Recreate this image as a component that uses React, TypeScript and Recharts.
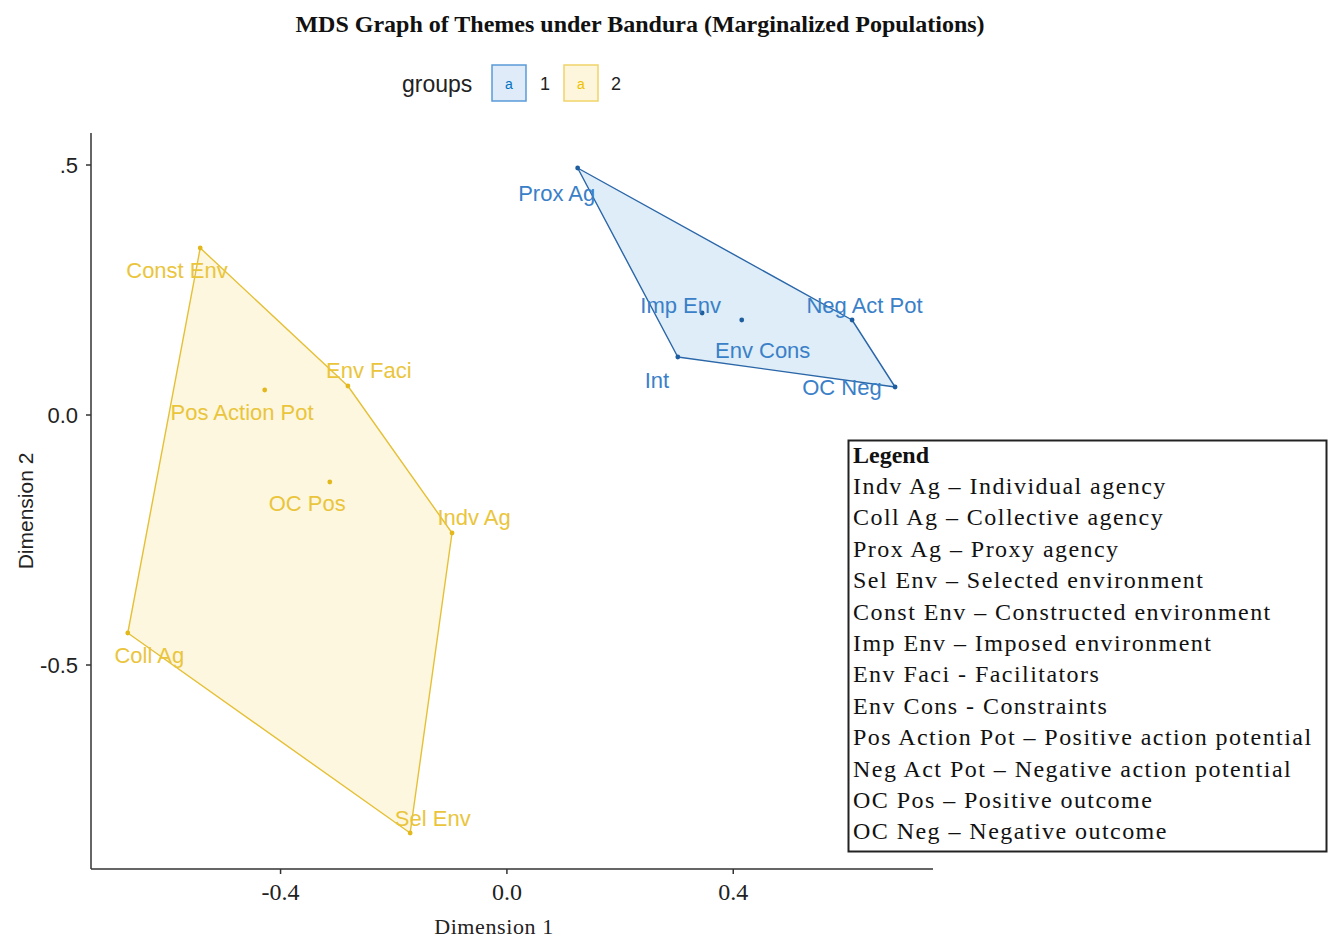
import React from 'react';
import { ScatterChart, Scatter, XAxis, YAxis } from 'recharts';

// ---- data ----
const group1Names = ['Prox Ag', 'Imp Env', 'Env Cons', 'Neg Act Pot', 'Int', 'OC Neg'];
const group1Dim1 = [0.125, 0.345, 0.415, 0.61, 0.302, 0.686];
const group1Dim2 = [0.494, 0.204, 0.19, 0.19, 0.116, 0.056];
const group1LabelDim1 = [0.088, 0.307, 0.452, 0.632, 0.265, 0.592];
const group1LabelDim2 = [0.444, 0.22, 0.13, 0.22, 0.07, 0.056];

const group2Names = ['Const Env', 'Pos Action Pot', 'Env Faci', 'OC Pos', 'Indv Ag', 'Coll Ag', 'Sel Env'];
const group2Dim1 = [-0.542, -0.428, -0.281, -0.313, -0.097, -0.67, -0.171];
const group2Dim2 = [0.334, 0.05, 0.058, -0.134, -0.236, -0.436, -0.836];
const group2LabelDim1 = [-0.583, -0.468, -0.244, -0.353, -0.058, -0.632, -0.131];
const group2LabelDim2 = [0.29, 0.006, 0.09, -0.176, -0.204, -0.48, -0.806];

const hull1Order = ['Prox Ag', 'Neg Act Pot', 'OC Neg', 'Int'];
const hull2Order = ['Const Env', 'Env Faci', 'Indv Ag', 'Sel Env', 'Coll Ag'];

const xTicks = [-0.4, 0, 0.4];
const xTickLabels = ['-0.4', '0.0', '0.4'];
const yTicks = [-0.5, 0, 0.5];
const yTickLabels = ['-0.5', '0.0', '.5'];
const xDomain = [-0.735, 0.753];
const yDomain = [-0.908, 0.564];

const groupKeys = ['1', '2'];
const legendTitle = 'Legend';
const legendLines = [
  'Indv Ag – Individual agency',
  'Coll Ag – Collective agency',
  'Prox Ag – Proxy agency',
  'Sel Env – Selected environment',
  'Const Env – Constructed environment',
  'Imp Env – Imposed environment',
  'Env Faci - Facilitators',
  'Env Cons - Constraints',
  'Pos Action Pot – Positive action potential',
  'Neg Act Pot – Negative action potential',
  'OC Pos – Positive outcome',
  'OC Neg – Negative outcome',
];
const titleText = 'MDS Graph of Themes under Bandura (Marginalized Populations)';

// ---- build series ----
const pts1 = group1Names.map((name, i) => ({ name, x: group1Dim1[i], y: group1Dim2[i] }));
const pts2 = group2Names.map((name, i) => ({ name, x: group2Dim1[i], y: group2Dim2[i] }));
const lab1 = group1Names.map((name, i) => ({ name, x: group1LabelDim1[i], y: group1LabelDim2[i] }));
const lab2 = group2Names.map((name, i) => ({ name, x: group2LabelDim1[i], y: group2LabelDim2[i] }));
const hull1 = hull1Order.map((n) => pts1.find((p) => p.name === n)!);
const hull2 = hull2Order.map((n) => pts2.find((p) => p.name === n)!);

const BLUE = '#0073C2';
const YELLOW = '#EFC000';
const BLUE_TEXT = '#3a80c8';
const YELLOW_TEXT = '#eac53c';

const SERIF = '"Liberation Serif", "DejaVu Serif", serif';
const SANS = '"Liberation Sans", Arial, sans-serif';

const hullLine = (fill: string, stroke: string) => (lp: any) => {
  const p = (lp.points || []) as { x: number; y: number }[];
  if (!p.length) return <g />;
  const d = p.map((q, i) => `${i === 0 ? 'M' : 'L'}${q.x},${q.y}`).join(' ') + ' Z';
  return <path d={d} fill={fill} stroke={stroke} strokeWidth={1.4} strokeLinejoin="round" />;
};

const dot = (color: string) => (p: any) => <circle cx={p.cx} cy={p.cy} r={2.4} fill={color} />;

const label = (color: string) => (p: any) => {
  const name = (p.payload && p.payload.name) || p.name;
  return (
    <text
      x={p.cx}
      y={p.cy}
      textAnchor="middle"
      dominantBaseline="central"
      fontFamily={SANS}
      fontSize={22}
      fill={color}
    >
      {name}
    </text>
  );
};

const empty = () => <g />;

export default function App() {
  return (
    <div style={{ position: 'absolute', left: 0, top: 0, width: 1328, height: 940, background: '#fff' }}>
      <ScatterChart
        width={1328}
        height={940}
        margin={{ top: 133, right: 395, bottom: 31, left: 0 }}
      >
        <XAxis
          type="number"
          dataKey="x"
          domain={xDomain}
          ticks={xTicks}
          allowDataOverflow
          height={40}
          tickSize={5}
          tickMargin={9}
          stroke="#333"
          strokeWidth={1.5}
          tickFormatter={(v: number) => xTickLabels[xTicks.indexOf(v)] ?? String(v)}
          tick={{ fontFamily: SERIF, fontSize: 24, fill: '#222' }}
        />
        <YAxis
          type="number"
          dataKey="y"
          domain={yDomain}
          ticks={yTicks}
          allowDataOverflow
          width={91}
          tickSize={5}
          tickMargin={8}
          stroke="#333"
          strokeWidth={1.5}
          tickFormatter={(v: number) => yTickLabels[yTicks.indexOf(v)] ?? String(v)}
          tick={{ fontFamily: SANS, fontSize: 22, fill: '#222' }}
        />
        <Scatter
          data={hull2}
          isAnimationActive={false}
          shape={empty}
          line={hullLine('rgba(239,192,0,0.12)', '#e5c036')}
          lineType="joint"
        />
        <Scatter
          data={hull1}
          isAnimationActive={false}
          shape={empty}
          line={hullLine('rgba(0,115,194,0.13)', '#2a66a8')}
          lineType="joint"
        />
        <Scatter data={pts2} isAnimationActive={false} shape={dot('#e3b81c')} />
        <Scatter data={pts1} isAnimationActive={false} shape={dot('#1f5e9e')} />
        <Scatter data={lab2} isAnimationActive={false} shape={label(YELLOW_TEXT)} />
        <Scatter data={lab1} isAnimationActive={false} shape={label(BLUE_TEXT)} />
      </ScatterChart>

      <svg
        width={1328}
        height={940}
        style={{ position: 'absolute', left: 0, top: 0, pointerEvents: 'none' }}
      >
        <text
          x={640}
          y={24}
          textAnchor="middle"
          dominantBaseline="central"
          fontFamily={SERIF}
          fontWeight="bold"
          fontSize={24}
          fill="#111"
        >
          {titleText}
        </text>

        {/* group legend */}
        <text x={402} y={84} dominantBaseline="central" fontFamily={SANS} fontSize={23} fill="#222">
          groups
        </text>
        <rect x={492} y={65} width={34} height={36} fill="#dfebf8" stroke="#5a9ad8" strokeWidth={1.5} />
        <text x={509} y={84} textAnchor="middle" dominantBaseline="central" fontFamily={SANS} fontSize={14} fill={BLUE}>
          a
        </text>
        <text x={545} y={84} textAnchor="middle" dominantBaseline="central" fontFamily={SANS} fontSize={18} fill="#222">
          {groupKeys[0]}
        </text>
        <rect x={564} y={65} width={34} height={36} fill="#fdf6dc" stroke="#f0d468" strokeWidth={1.5} />
        <text x={581} y={84} textAnchor="middle" dominantBaseline="central" fontFamily={SANS} fontSize={14} fill={YELLOW}>
          a
        </text>
        <text x={616} y={84} textAnchor="middle" dominantBaseline="central" fontFamily={SANS} fontSize={18} fill="#222">
          {groupKeys[1]}
        </text>

        {/* axis titles */}
        <text
          x={494}
          y={926}
          textAnchor="middle"
          dominantBaseline="central"
          fontFamily={SERIF}
          fontSize={22}
          letterSpacing={0.6}
          fill="#222"
        >
          Dimension 1
        </text>
        <text
          x={25}
          y={511}
          textAnchor="middle"
          dominantBaseline="central"
          fontFamily={SANS}
          fontSize={21}
          fill="#222"
          transform="rotate(-90 25 511)"
        >
          Dimension 2
        </text>

        {/* explanatory legend box */}
        <rect x={848.5} y={440.5} width={478} height={411} fill="#fff" stroke="#222" strokeWidth={2} />
        <text x={853} y={454.5} dominantBaseline="central" fontFamily={SERIF} fontWeight="bold" fontSize={24} fill="#111">
          {legendTitle}
        </text>
        {legendLines.map((t, i) => (
          <text
            key={t}
            x={853}
            y={454.5 + (i + 1) * 31.4}
            dominantBaseline="central"
            fontFamily={SERIF}
            fontSize={24}
            letterSpacing={1.45}
            fill="#111"
          >
            {t}
          </text>
        ))}
      </svg>
    </div>
  );
}
